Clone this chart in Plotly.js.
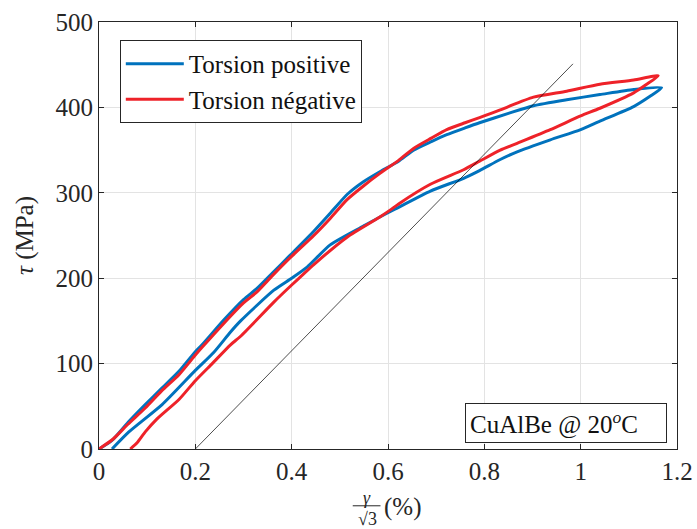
<!DOCTYPE html>
<html>
<head>
<meta charset="utf-8">
<script src="https://cdn.plot.ly/plotly-3.0.1.min.js"></script>
<style>html,body{margin:0;padding:0;background:#fff;}#chart{width:697px;height:529px;}</style>
</head>
<body>
<div id="chart"></div>
<script>
// Torsion positive: loading branch then unloading branch (gamma/sqrt(3) in %, tau in MPa)
const posX = [0, 0.027, 0.06, 0.096, 0.13, 0.166, 0.2, 0.214, 0.259, 0.3, 0.328, 0.36, 0.397, 0.446, 0.48, 0.515, 0.549, 0.584, 0.622, 0.653, 0.69, 0.722, 0.76, 0.79, 0.85, 0.902, 0.971, 1.04, 1.11, 1.168,
  1.144, 1.11, 1.04, 1.0, 0.937, 0.868, 0.833, 0.79, 0.757, 0.688, 0.622, 0.584, 0.549, 0.48, 0.432, 0.4, 0.363, 0.294, 0.273, 0.238, 0.2, 0.131, 0.062, 0.027];
const posY = [0, 10, 31, 52, 71, 91, 114, 122, 151, 175, 188, 206, 227, 255, 276, 298, 313, 325, 337, 350, 360, 368, 376, 382, 393, 402, 409, 415, 421, 423,
  413, 401, 384, 374, 362, 348, 339, 326, 317, 302, 283, 272, 261, 239, 213, 200, 186, 150, 137, 113, 92, 52, 20, 0];

// Torsion négative: loading branch then unloading branch
const negX = [0, 0.03, 0.06, 0.096, 0.13, 0.166, 0.2, 0.214, 0.259, 0.3, 0.328, 0.36, 0.397, 0.446, 0.48, 0.515, 0.549, 0.584, 0.622, 0.653, 0.69, 0.722, 0.76, 0.79, 0.833, 0.85, 0.902, 0.971, 1.04, 1.11, 1.161,
  1.137, 1.11, 1.04, 1.0, 0.937, 0.868, 0.833, 0.79, 0.757, 0.688, 0.622, 0.605, 0.584, 0.515, 0.446, 0.4, 0.363, 0.294, 0.273, 0.235, 0.2, 0.166, 0.12, 0.096, 0.08, 0.065];
const negY = [0, 12, 29, 48, 68, 87, 110, 119, 147, 171, 184, 203, 224, 250, 270, 292, 308, 323, 338, 352, 364, 374, 382, 388, 397, 401, 412, 419, 427, 432, 437,
  427, 417, 399, 390, 374, 358, 350, 337, 327, 310, 287, 280, 272, 248, 216, 192, 172, 132, 122, 100, 80, 58, 35, 20, 8, 0];

// Elastic reference line
const refX = [0.2, 0.984];
const refY = [0, 451];

const seriesNames = ['Torsion positive', 'Torsion négative'];
const xTicks = [0, 0.2, 0.4, 0.6, 0.8, 1, 1.2];
const xTickText = ['0', '0.2', '0.4', '0.6', '0.8', '1', '1.2'];
const yTicks = [0, 100, 200, 300, 400, 500];
const annotText = 'CuAlBe @ 20<sup><i>o</i></sup>C';

const FONT = 'Liberation Serif';
const AX = '#262626';

const traces = [
  {x: posX, y: posY, type: 'scatter', mode: 'lines', name: seriesNames[0],
   line: {color: '#0072BD', width: 3, shape: 'spline', smoothing: 0.6}},
  {x: negX, y: negY, type: 'scatter', mode: 'lines', name: seriesNames[1],
   line: {color: '#EE2229', width: 3, shape: 'spline', smoothing: 0.6}},
  {x: refX, y: refY, type: 'scatter', mode: 'lines', showlegend: false,
   line: {color: '#000000', width: 0.7}}
];

const layout = {
  width: 697, height: 529,
  margin: {l: 99, r: 20, t: 22, b: 80},
  paper_bgcolor: '#ffffff', plot_bgcolor: '#ffffff',
  font: {family: FONT, size: 25, color: AX},
  showlegend: true,
  legend: {
    x: 0.036, y: 0.958, xanchor: 'left', yanchor: 'top',
    bgcolor: '#ffffff', bordercolor: AX, borderwidth: 1,
    font: {family: FONT, size: 25, color: '#111'},
    itemwidth: 58, tracegroupgap: 0
  },
  xaxis: {
    range: [0, 1.2], tickvals: xTicks, ticktext: xTickText,
    ticks: 'inside', ticklen: 5, tickcolor: AX, tickwidth: 1,
    showline: true, linecolor: AX, linewidth: 1, mirror: 'allticks',
    showgrid: true, gridcolor: '#e3e3e3', gridwidth: 1, zeroline: false,
    tickfont: {family: FONT, size: 25, color: AX}
  },
  yaxis: {
    range: [0, 500], tickvals: yTicks,
    ticks: 'inside', ticklen: 5, tickcolor: AX, tickwidth: 1,
    showline: true, linecolor: AX, linewidth: 1, mirror: 'allticks',
    showgrid: true, gridcolor: '#e3e3e3', gridwidth: 1, zeroline: false,
    tickfont: {family: FONT, size: 25, color: AX},
    title: {text: '<i>τ</i> (MPa)', font: {family: FONT, size: 25, color: AX}, standoff: 14}
  },
  annotations: [
    {xref: 'paper', yref: 'paper', x: 0.808, y: 0.061, xanchor: 'center', yanchor: 'middle',
     text: annotText, showarrow: false, font: {family: FONT, size: 25, color: '#111'},
     bordercolor: AX, borderwidth: 1, borderpad: 4, bgcolor: '#ffffff', width: 192, height: 30, align: 'left'},
    {xref: 'paper', yref: 'paper', x: 0.464, y: -0.115, xanchor: 'center', yanchor: 'middle',
     text: '<i>γ</i>', showarrow: false, font: {family: FONT, size: 18, color: AX}},
    {xref: 'paper', yref: 'paper', x: 0.464, y: -0.165, xanchor: 'center', yanchor: 'middle',
     text: '√3', showarrow: false, font: {family: FONT, size: 18, color: AX}},
    {xref: 'paper', yref: 'paper', x: 0.489, y: -0.135, xanchor: 'left', yanchor: 'middle',
     text: '(%)', showarrow: false, font: {family: FONT, size: 25, color: AX}}
  ],
  shapes: [
    {type: 'line', xref: 'paper', yref: 'paper', x0: 0.439, x1: 0.487, y0: -0.133, y1: -0.133,
     line: {color: AX, width: 1}}
  ]
};

Plotly.newPlot('chart', traces, layout, {displayModeBar: false, staticPlot: true});
</script>
</body>
</html>
